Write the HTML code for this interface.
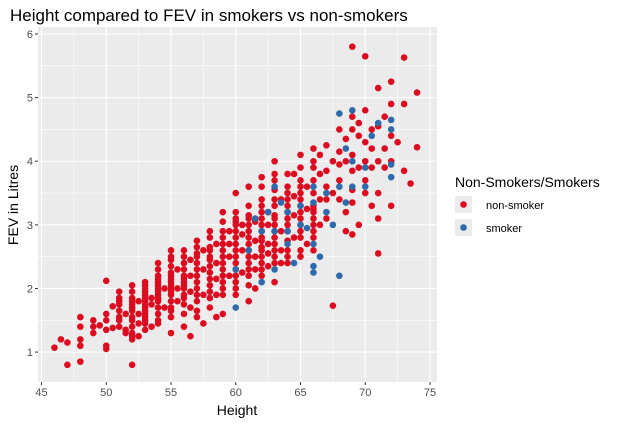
<!DOCTYPE html>
<html><head><meta charset="utf-8"><style>
body{margin:0;background:#fff;font-family:"Liberation Sans",sans-serif}
svg text{font-family:"Liberation Sans",sans-serif}
</style></head><body>
<svg id="c" width="622" height="424" xmlns="http://www.w3.org/2000/svg">
<rect width="622" height="424" fill="#fff"/>
<text x="10" y="21" font-size="17" fill="#000">Height compared to FEV in smokers vs non-smokers</text>
<rect id="panel" x="38" y="27" width="399" height="355" fill="#ebebeb"/>
<g id="grid"></g><g id="pts"></g><g id="axes"></g>
<text x="237" y="415" font-size="14" text-anchor="middle" fill="#000">Height</text>
<text transform="translate(18,205) rotate(-90)" font-size="14" text-anchor="middle" fill="#000">FEV in Litres</text>
<g>
<text x="455" y="187" font-size="14" fill="#000">Non-Smokers/Smokers</text>
<g><rect x="455" y="196" width="17" height="17" fill="#ebebeb"/><circle cx="463.5" cy="204.5" r="3.3" fill="#dc0b1f"/><text x="486" y="209" font-size="11" fill="#000">non-smoker</text></g>
<g><rect x="455" y="219" width="17" height="17" fill="#ebebeb"/><circle cx="463.5" cy="227.5" r="3.3" fill="#2f6aab"/><text x="486" y="232" font-size="11" fill="#000">smoker</text></g>
</g>
</svg>
<script>
const xTicks=[45,50,55,60,65,70,75];
const yTicks=[1,2,3,4,5,6];
const nonSmoker=[[46,1.07],[46.5,1.2],[47,1.15],[47,0.8],[48,1.55],[48,1.4],[48,1.2],[48,1.1],[48,0.85],[49,1.5],[49,1.4],[49,1.3],[49.5,1.42],[50,2.12],[50,1.5],[50,1.6],[50,1.35],[50,1.1],[50,1.05],[50.5,1.38],[50.5,1.72],[51,1.4],[51,1.55],[51,1.65],[51,1.8],[51,1.95],[51.5,1.3],[51.5,1.35],[51.5,1.6],[52,0.8],[52,1.2],[52,1.25],[52,1.4],[52,1.55],[52,1.65],[52,1.75],[52,1.85],[52,1.95],[52.5,1.25],[52.5,1.45],[52.5,1.6],[52.5,1.8],[53,1.35],[53,1.5],[53,1.6],[53,1.7],[53,1.8],[53,1.9],[53,2.0],[53,2.1],[53.5,1.4],[53.5,1.75],[53.5,1.85],[54,1.45],[54,1.6],[54,1.8],[54,1.9],[54,2.0],[54,2.1],[54,2.2],[54,2.4],[54.5,1.7],[54.5,2.0],[55,1.3],[55,1.55],[55,1.65],[55,1.8],[55,1.95],[55,2.05],[55,2.2],[55,2.35],[55,2.5],[55,2.6],[55.5,1.8],[55.5,2.0],[55.5,2.3],[56,1.4],[56,1.6],[56,1.85],[56,2.0],[56,2.15],[56,2.3],[56,2.5],[56.5,1.25],[56.5,1.7],[56.5,1.95],[56.5,2.2],[56.5,2.45],[57,1.55],[57,1.65],[57,1.8],[57,2.0],[57,2.2],[57,2.4],[57,2.55],[57,2.65],[57.5,1.45],[57.5,1.9],[57.5,2.3],[57.5,2.6],[58,1.7],[58,1.85],[58,2.05],[58,2.25],[58,2.5],[58,2.65],[58,2.8],[58.5,1.55],[58.5,1.9],[58.5,2.15],[58.5,2.4],[58.5,2.7],[59,1.6],[59,2.0],[59,2.3],[59,2.6],[59,2.8],[59,3.05],[59.5,2.2],[59.5,2.5],[59.5,2.9],[59.5,2.7],[60,1.9],[60,2.1],[60,2.3],[60,2.5],[60,2.7],[60,2.9],[60,3.05],[60,3.1],[60.5,2.25],[60.5,2.6],[60.5,2.85],[60.5,3.0],[61,1.8],[61,2.05],[61,2.4],[61,2.6],[61,2.8],[61,3.0],[61,3.15],[61.5,2.0],[61.5,2.5],[61.5,2.75],[61.5,3.05],[61.5,2.3],[62,2.2],[62,2.4],[62,2.65],[62,2.9],[62,3.1],[62,3.3],[62,3.6],[62,2.8],[62.5,2.35],[62.5,2.7],[62.5,3.0],[62.5,3.2],[62.5,2.55],[63,2.1],[63,2.5],[63,2.8],[63,3.0],[63,3.15],[63,3.3],[63,3.55],[63,3.7],[63.5,2.6],[63.5,2.9],[63.5,3.4],[63.5,2.4],[64,2.4],[64,2.75],[64,3.0],[64,3.2],[64,3.4],[64,3.6],[64.5,2.8],[64.5,3.15],[64.5,3.45],[64.5,3.8],[65,2.5],[65,2.9],[65,3.1],[65,3.3],[65,3.5],[65,3.7],[65,3.9],[65.5,2.7],[65.5,3.25],[65.5,3.6],[66,2.6],[66,2.9],[66,3.2],[66,3.5],[66,3.7],[66,4.0],[66.5,3.0],[66.5,3.4],[66.5,3.8],[66.5,4.1],[67,3.1],[67,3.4],[67,3.6],[67,3.85],[67,4.25],[67.5,1.73],[67.5,3.5],[67.5,4.0],[68,3.4],[68,3.7],[68,3.95],[68,4.15],[68,4.5],[68.5,2.9],[68.5,3.2],[68.5,4.0],[68.5,4.35],[69,2.85],[69,3.35],[69,3.55],[69,3.85],[69,4.1],[69,4.5],[69,4.7],[69,5.8],[69.5,3.0],[69.5,3.9],[69.5,4.4],[69.5,4.6],[70,3.5],[70,3.7],[70,4.0],[70,4.3],[70,4.8],[70,5.65],[70.5,3.3],[70.5,3.9],[70.5,4.2],[70.5,4.5],[71,2.55],[71,3.1],[71,3.5],[71,4.0],[71,4.55],[71,5.15],[71.5,3.9],[71.5,4.2],[71.5,4.7],[72,3.3],[72,4.0],[72,4.4],[72,4.9],[72,5.25],[72.5,4.3],[73,3.85],[73,4.9],[73,5.63],[73.5,3.65],[74,4.22],[74,5.08],[66,3.25],
[51,1.75],[51,1.5],[51,1.85],[52,1.3],[52,1.5],[52,1.7],[52,1.8],[52,2.05],[53,1.45],[53,1.55],[53,1.65],[53,1.75],[53,1.85],[53,1.95],[53,2.05],[54,1.5],[54,1.7],[54,1.85],[54,1.95],[54,2.05],[54,2.15],[54,2.3],[55,1.7],[55,1.9],[55,2.0],[55,2.1],[55,2.15],[55,2.25],[55,2.45],[56,1.75],[56,1.9],[56,2.05],[56,2.1],[56,2.2],[56,2.4],[56,2.6],[57,1.9],[57,2.1],[57,2.3],[57,2.5],[57,2.75],[58,1.95],[58,2.15],[58,2.35],[58,2.45],[58,2.6],[58,2.9],[59,1.9],[59,2.1],[59,2.2],[59,2.4],[59,2.5],[59,2.7],[59,2.9],[59,3.2],[60,2.0],[60,2.2],[60,2.4],[60,2.6],[60,2.8],[60,3.0],[60,3.2],[60,3.5],[61,2.2],[61,2.3],[61,2.5],[61,2.7],[61,2.9],[61,3.1],[61,3.3],[61,3.6],[62,2.3],[62,2.5],[62,2.6],[62,2.75],[62,3.0],[62,3.2],[62,3.4],[62,3.75],[63,2.4],[63,2.6],[63,2.7],[63,2.9],[63,3.1],[63,3.4],[63,3.8],[63,4.0],[64,2.5],[64,2.6],[64,2.9],[64,3.1],[64,3.3],[64,3.5],[64,3.8],[65,2.6],[65,2.8],[65,3.0],[65,3.2],[65,3.4],[65,3.6],[65,4.1],[66,2.8],[66,3.0],[66,3.1],[66,3.3],[66,3.9],[66,4.2]];
const smoker=[[60,1.7],[60,2.3],[61,2.6],[61.5,3.1],[62,2.9],[62.5,3.2],[63,2.9],[63,2.3],[63.5,3.35],[64,3.2],[64,2.7],[64.5,2.4],[65,3.0],[65,3.3],[65.5,2.95],[66,2.25],[66,2.35],[66,2.7],[66,3.35],[66,3.6],[66.5,2.5],[67,3.5],[67,3.2],[67.5,3.0],[68,2.2],[68,3.6],[68,4.75],[68.5,4.2],[68.5,3.35],[69,3.6],[69,4.0],[69,4.8],[70,3.6],[70,3.9],[70.5,4.4],[71,4.6],[72,3.75],[72,3.95],[72,4.5],[72,4.65],[62,2.1],[64,2.9],[63,3.6]];
const NS='http://www.w3.org/2000/svg';
const X0=38,X1=437,Y0=27,Y1=382,xmin=44.73,xmax=75.54,ymin=0.53,ymax=6.11;
const sx=v=>X0+(v-xmin)/(xmax-xmin)*(X1-X0);
const sy=v=>Y1-(v-ymin)/(ymax-ymin)*(Y1-Y0);
function mk(tag,attrs,parent){const e=document.createElementNS(NS,tag);for(const k in attrs)e.setAttribute(k,attrs[k]);parent.appendChild(e);return e;}
const grid=document.getElementById('grid'),axes=document.getElementById('axes'),pts=document.getElementById('pts');
for(let i=0;i<xTicks.length-1;i++){const m=(xTicks[i]+xTicks[i+1])/2;const l=mk('line',{x1:sx(m),x2:sx(m),y1:Y0,y2:Y1,stroke:'#fff','stroke-width':0.55},grid);}
for(let i=0;i<yTicks.length;i++){const m=yTicks[i]-0.5;if(m<ymin)continue;const l=mk('line',{x1:X0,x2:X1,y1:sy(m),y2:sy(m),stroke:'#fff','stroke-width':0.55},grid);}
xTicks.forEach(t=>{const l=mk('line',{x1:sx(t),x2:sx(t),y1:Y0,y2:Y1,stroke:'#fff','stroke-width':1.1},grid);
const k=mk('line',{x1:sx(t),x2:sx(t),y1:Y1,y2:Y1+3,stroke:'#333','stroke-width':1},axes);
const tx=mk('text',{x:sx(t),y:Y1+14,'font-size':11,'text-anchor':'middle',fill:'#4d4d4d'},axes);tx.textContent=t;});
yTicks.forEach(t=>{const l=mk('line',{x1:X0,x2:X1,y1:sy(t),y2:sy(t),stroke:'#fff','stroke-width':1.1},grid);
const k=mk('line',{x1:X0-3,x2:X0,y1:sy(t),y2:sy(t),stroke:'#333','stroke-width':1},axes);
const tx=mk('text',{x:X0-5,y:sy(t)+4,'font-size':11,'text-anchor':'end',fill:'#4d4d4d'},axes);tx.textContent=t;});
nonSmoker.forEach(p=>{const c=mk('circle',{cx:sx(p[0]),cy:sy(p[1]),r:3.3,fill:'#dc0b1f'},pts);});
smoker.forEach(p=>{const c=mk('circle',{cx:sx(p[0]),cy:sy(p[1]),r:3.3,fill:'#2f6aab'},pts);});
</script>
</body></html>
